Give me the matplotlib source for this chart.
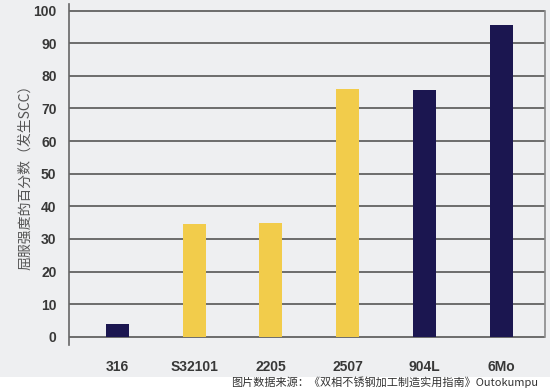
import matplotlib
matplotlib.use("Agg")
import matplotlib.pyplot as plt
from matplotlib.patches import Rectangle
from matplotlib import font_manager

categories = ["316", "S32101", "2205", "2507", "904L", "6Mo"]
values = [4.0, 34.5, 34.8, 75.9, 75.7, 95.6]
groups = ["aust", "duplex", "duplex", "duplex", "aust", "aust"]
yticks = [0, 10, 20, 30, 40, 50, 60, 70, 80, 90, 100]
ylabel = "屈服强度的百分数（发生SCC）"
caption = "图片数据来源：《双相不锈钢加工制造实用指南》Outokumpu"

colors = {"aust": "#1B1650", "duplex": "#F2CC4B"}
bg = "#EEEFF1"

names = {f.name for f in font_manager.fontManager.ttflist}
narrow = "Liberation Sans Narrow" if "Liberation Sans Narrow" in names else "Liberation Sans"
cjk = ["Noto Sans CJK SC", "DejaVu Sans"]

fig = plt.figure(figsize=(5.5, 3.9), dpi=100)
fig.patch.set_facecolor("white")
fig.patches.append(Rectangle((0.0, 1 - 377 / 390), 1.0, 377 / 390,
                             transform=fig.transFigure, facecolor=bg,
                             edgecolor="none", zorder=-10))

ax = fig.add_axes([69 / 550, 1 - 345 / 390, (545 - 69) / 550, (345 - 4) / 390])
ax.set_facecolor("none")
ax.set_zorder(5)

x = list(range(len(categories)))
ax.bar(x, values, width=0.3, color=[colors[g] for g in groups],
       zorder=3, edgecolor="none")

ax.set_xlim(-0.63, len(categories) - 1 + 0.57)
ax.set_ylim(-2.5, 102)
ax.set_yticks(yticks)
for t in yticks:
    ax.axhline(t, color="#6c6c6c", lw=1.4, zorder=1)
ax.plot([ax.get_xlim()[1]] * 2, [0, 100], color="#8a8a8a", lw=1.2,
        zorder=1, clip_on=False)

ax.set_xticks(x)
ax.set_xticklabels(categories)
for s in ["top", "right", "bottom"]:
    ax.spines[s].set_visible(False)
ax.spines["left"].set_color("#666666")
ax.spines["left"].set_linewidth(1.2)
ax.tick_params(axis="both", length=0, colors="#333333")
ax.tick_params(axis="y", pad=9)
ax.tick_params(axis="x", pad=11)
for lab in ax.get_xticklabels() + ax.get_yticklabels():
    lab.set_fontfamily(narrow)
    lab.set_fontweight("bold")
    lab.set_fontsize(10)
    lab.set_color("#383838")

fig.text(25 / 550, 1 - 174 / 390, ylabel, rotation=90, ha="center",
         va="center", fontsize=10, color="#555555", family=cjk, zorder=6)
fig.text(538 / 550, 1 - 382 / 390, caption, ha="right", va="center",
         fontsize=8, color="#333333", family=cjk, zorder=6)

fig.savefig("out.png", dpi=100, facecolor=fig.get_facecolor())
